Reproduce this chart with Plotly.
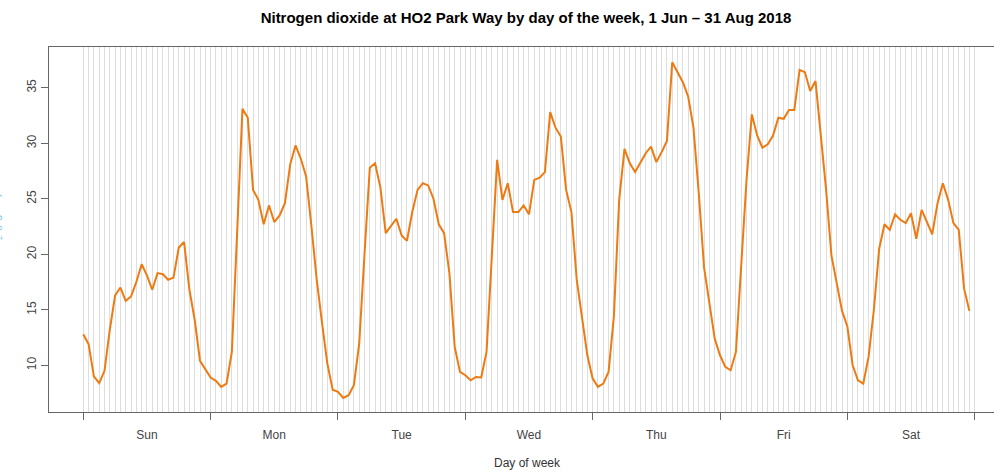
import plotly.graph_objects as go

days = ["Sun", "Mon", "Tue", "Wed", "Thu", "Fri", "Sat"]
hours = list(range(168))  # hour index across the week

no2_sun = [12.8, 11.9, 9.0, 8.4, 9.5, 13.2, 16.3, 17.0, 15.8, 16.2, 17.5, 19.1,
           18.1, 16.8, 18.3, 18.2, 17.7, 17.9, 20.6, 21.1, 16.8, 14.1, 10.4, 9.7]
no2_mon = [8.9, 8.6, 8.05, 8.35, 11.2, 22.0, 33.1, 32.3, 25.8, 24.9, 22.7, 24.4,
           22.9, 23.5, 24.6, 28.1, 29.8, 28.6, 27.0, 22.5, 17.7, 13.8, 10.15, 7.8]
no2_tue = [7.6, 7.05, 7.3, 8.2, 11.95, 20.0, 27.8, 28.2, 26.0, 21.9, 22.6, 23.2,
           21.7, 21.2, 23.8, 25.8, 26.4, 26.2, 25.0, 22.7, 21.9, 18.3, 11.65, 9.4]
no2_wed = [9.1, 8.65, 8.95, 8.9, 11.2, 20.1, 28.5, 24.9, 26.4, 23.8, 23.8, 24.4,
           23.6, 26.7, 26.9, 27.4, 32.8, 31.4, 30.6, 25.8, 23.8, 17.7, 14.4, 10.9]
no2_thu = [8.8, 8.05, 8.35, 9.4, 14.4, 24.9, 29.5, 28.2, 27.4, 28.2, 29.1, 29.7,
           28.3, 29.2, 30.2, 37.3, 36.4, 35.5, 34.2, 31.4, 25.5, 18.8, 15.6, 12.4]
no2_fri = [10.9, 9.85, 9.55, 11.2, 19.0, 26.7, 32.6, 30.7, 29.6, 29.9, 30.7, 32.3,
           32.2, 33.0, 33.0, 36.6, 36.4, 34.7, 35.6, 30.6, 25.8, 19.9, 17.4, 14.9]
no2_sat = [13.5, 10.0, 8.65, 8.35, 10.75, 15.0, 20.5, 22.7, 22.2, 23.6, 23.1, 22.8,
           23.7, 21.4, 24.0, 22.9, 21.8, 24.6, 26.4, 24.9, 22.8, 22.2, 16.9, 14.9]

no2 = no2_sun + no2_mon + no2_tue + no2_wed + no2_thu + no2_fri + no2_sat

day_bounds = [0, 24, 48, 72, 96, 120, 144, 168]
day_centers = [12, 36, 60, 84, 108, 132, 156]
hour_grid = list(range(169))
y_ticks = [10, 15, 20, 25, 30, 35]

XR = [-6.46, 171.64]
YR = [5.79, 38.67]
FONT = "Liberation Sans, Arial, sans-serif"

fig = go.Figure()
fig.add_trace(go.Scatter(
    x=hours, y=no2, mode="lines",
    line=dict(color="#EE7A12", width=2),
    showlegend=False, hoverinfo="x+y",
))
# empty helper traces so the overlaid tick axes are created
fig.add_trace(go.Scatter(x=day_bounds, y=[None] * len(day_bounds), xaxis="x2",
                         mode="lines", showlegend=False, hoverinfo="skip"))
fig.add_trace(go.Scatter(x=day_centers, y=[None] * len(day_centers), xaxis="x3",
                         mode="lines", showlegend=False, hoverinfo="skip"))

fig.update_layout(
    width=994, height=473,
    margin=dict(l=49, r=0, t=47, b=61, autoexpand=False),
    paper_bgcolor="white", plot_bgcolor="white",
    font=dict(family=FONT, size=12, color="#444444"),
    title=dict(
        text="<b>Nitrogen dioxide at HO2 Park Way by day of the week, 1 Jun \u2013 31 Aug 2018</b>",
        x=526 / 994, xanchor="center", xref="container",
        y=1 - 18 / 473, yanchor="middle", yref="container",
        font=dict(family=FONT, size=15, color="#000000"),
    ),
    xaxis=dict(
        range=XR, tickmode="array", tickvals=hour_grid,
        showgrid=True, gridcolor="#dedede", gridwidth=1,
        ticks="", showticklabels=False, zeroline=False,
        showline=True, linecolor="#666666", linewidth=1, mirror=True,
    ),
    xaxis2=dict(
        range=XR, overlaying="x", anchor="y", side="bottom",
        tickmode="array", tickvals=day_bounds, ticks="outside", ticklen=7,
        tickcolor="#666666", tickwidth=1, showticklabels=False,
        showgrid=False, zeroline=False, showline=False,
    ),
    xaxis3=dict(
        range=XR, overlaying="x", anchor="y", side="bottom",
        tickmode="array", tickvals=day_centers, ticktext=days,
        ticks="outside", ticklen=12, tickcolor="rgba(0,0,0,0)",
        showgrid=False, zeroline=False, showline=False,
        tickfont=dict(family=FONT, size=12, color="#444444"),
    ),
    yaxis=dict(
        range=YR, tickmode="array", tickvals=y_ticks,
        ticks="outside", ticklen=7, tickcolor="#666666",
        tickangle=-90, showgrid=False, zeroline=False,
        showline=True, linecolor="#666666", linewidth=1,
        tickfont=dict(family=FONT, size=12, color="#444444"),
    ),
)

fig.add_annotation(
    text="Day of week", xref="paper", yref="paper",
    x=(527 - 49) / 945, y=(412 - 463) / 365,
    xanchor="center", yanchor="middle", showarrow=False,
    font=dict(family=FONT, size=12, color="#333333"),
)
fig.add_annotation(
    text="NO<sub>2</sub> (\u00b5g/m\u00b3)", xref="paper", yref="paper",
    x=(-4 - 49) / 945, y=(412 - 226) / 365, textangle=-90,
    xanchor="center", yanchor="middle", showarrow=False,
    font=dict(family=FONT, size=12, color="#7EC8E3"),
)

fig.write_html(
    "out.html",
    config={"displayModeBar": False},
    post_script="document.body.style.margin='0';document.body.style.overflow='hidden';",
)
